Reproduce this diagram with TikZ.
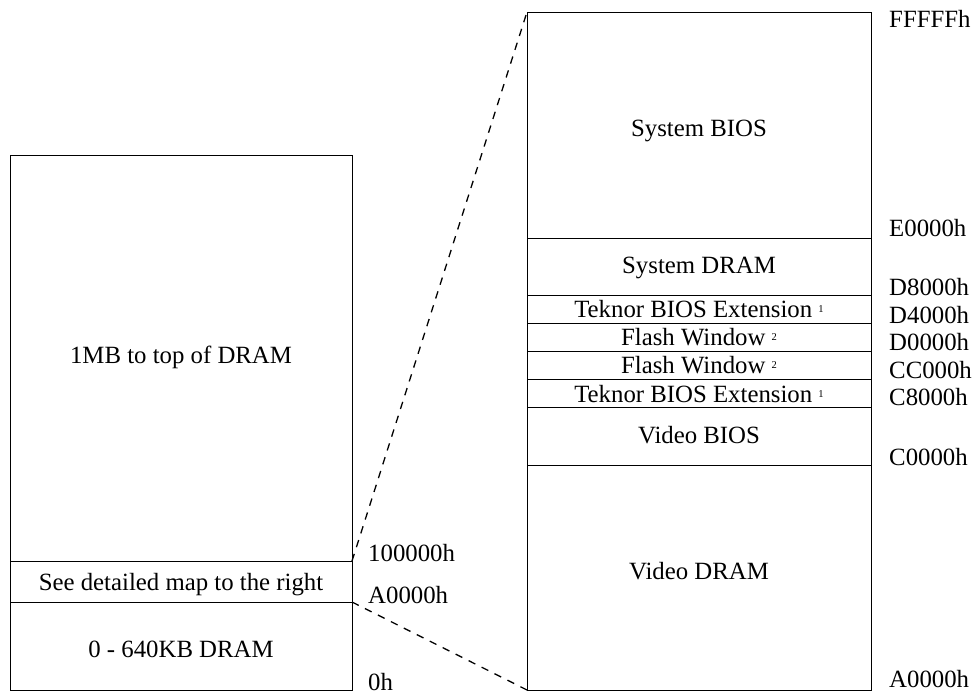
\documentclass[tikz,border=0pt]{standalone}
\usepackage{fontspec}
\setmainfont{Liberation Serif}
\begin{document}
\begin{tikzpicture}[x=1pt,y=-1pt,
  cell/.style={draw=black,line width=1pt,rectangle,inner sep=0pt,outer sep=0pt,anchor=north west},
  txt/.style={inner sep=0pt,anchor=base,font=\fontsize{24.8}{30}\selectfont},
  addr/.style={inner sep=0pt,anchor=base west,font=\fontsize{24.8}{30}\selectfont},
  zoomline/.style={draw=black,line width=1.3pt,dash pattern=on 7.5pt off 7pt}]
\useasboundingbox (0,0) rectangle (979,694);
\newcommand{\supn}[1]{\raisebox{5pt}{\fontsize{10.5}{11}\selectfont #1}}
% left map
\node[cell,minimum width=342pt,minimum height=406pt] (big) at (10,155) {};
\node[cell,minimum width=342pt,minimum height=41pt] (see) at (10,561) {};
\node[cell,minimum width=342pt,minimum height=88pt] (low) at (10,602) {};
\node[txt] (tbig) at (181,363) {1MB to top of DRAM};
\node[txt] (tsee) at (181,590) {See detailed map to the right};
\node[txt] (tlow) at (181,657) {0 - 640KB DRAM};
\node[addr] (a1) at (368,561) {100000h};
\node[addr] (a2) at (368,603) {A0000h};
\node[addr] (a3) at (368,690) {0h};
% right map
\node[cell,minimum width=344pt,minimum height=226pt] (sysbios) at (527,12) {};
\node[cell,minimum width=344pt,minimum height=57pt] (sysdram) at (527,238) {};
\node[cell,minimum width=344pt,minimum height=28pt] (tek1) at (527,295) {};
\node[cell,minimum width=344pt,minimum height=28pt] (fl1) at (527,323) {};
\node[cell,minimum width=344pt,minimum height=28pt] (fl2) at (527,351) {};
\node[cell,minimum width=344pt,minimum height=28pt] (tek2) at (527,379) {};
\node[cell,minimum width=344pt,minimum height=58pt] (vbios) at (527,407) {};
\node[cell,minimum width=344pt,minimum height=225pt] (vdram) at (527,465) {};
\node[txt] (tsysbios) at (699,136) {System BIOS};
\node[txt] (tsysdram) at (699,273) {System DRAM};
\node[txt] (ttek1) at (699,317) {Teknor BIOS Extension \supn{1}};
\node[txt] (tfl1) at (699,345) {Flash Window \supn{2}};
\node[txt] (tfl2) at (699,373) {Flash Window \supn{2}};
\node[txt] (ttek2) at (699,402) {Teknor BIOS Extension \supn{1}};
\node[txt] (tvbios) at (699,443) {Video BIOS};
\node[txt] (tvdram) at (699,579) {Video DRAM};
\node[addr] (r0) at (889,27) {FFFFFh};
\node[addr] (r1) at (889,236) {E0000h};
\node[addr] (r2) at (889,295) {D8000h};
\node[addr] (r3) at (889,323) {D4000h};
\node[addr] (r4) at (889,350) {D0000h};
\node[addr] (r5) at (889,378) {CC000h};
\node[addr] (r6) at (889,405) {C8000h};
\node[addr] (r7) at (889,465) {C0000h};
\node[addr] (r8) at (889,687) {A0000h};
% zoom lines
\draw[zoomline] (see.north east) -- (sysbios.north west);
\draw[zoomline] (see.south east) -- (vdram.south west);
\end{tikzpicture}
\end{document}
